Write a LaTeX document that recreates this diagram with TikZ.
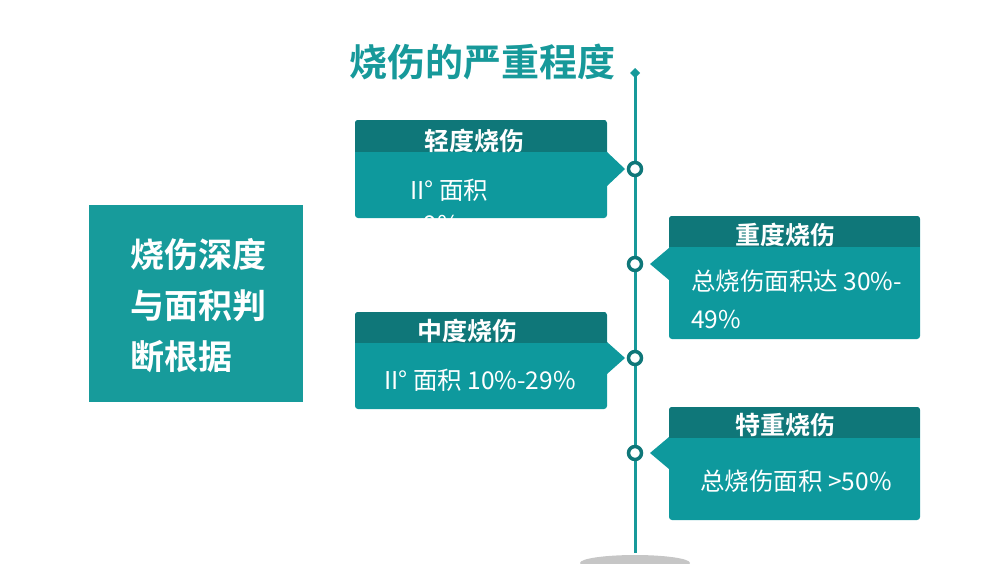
\documentclass[tikz,border=0pt]{standalone}
\usepackage{fontspec}
\setmainfont{Noto Sans CJK SC}
\newfontfamily\cjkb{Noto Sans CJK SC Bold}
\definecolor{hd}{HTML}{0F7779}
\definecolor{bd}{HTML}{0E999D}
\definecolor{tt}{HTML}{17999A}
\definecolor{lb}{HTML}{179B9B}
\begin{document}
\begin{tikzpicture}[x=1pt,y=-1pt,
  body/.style={fill=bd,rounded corners=3pt},
  head/.style={font=\cjkb\fontsize{25}{27}\selectfont,text=white},
  txt/.style={font=\fontsize{24.5}{28}\selectfont,text=white,inner sep=0pt},
  dot/.style={circle,draw=hd,line width=3.5pt,fill=white,minimum size=13pt,inner sep=0pt}]
\useasboundingbox (0,0) rectangle (1000,563);
\fill[gray!45] (635,563) ellipse (55 and 8);
\node[font=\cjkb\fontsize{38}{40}\selectfont,text=tt] (title) at (482,62) {烧伤的严重程度};
\coordinate (top) at (635,73);
\coordinate (bot) at (635,553);
\draw[tt,line width=3pt] (top) -- (bot);
\fill[tt] (635,68) -- (640,73) -- (635,78) -- (630,73) -- cycle;
% left box
\fill[lb] (89,205) rectangle (303,402);
\node[font=\cjkb\fontsize{34}{51}\selectfont,text=white,align=left,anchor=north west,inner sep=0pt] (left) at (130,238) {烧伤深度\\与面积判\\断根据};
% box1
\fill[bd] (607,152) -- (625,169) -- (607,186) -- cycle;
\fill[body] (355,120) rectangle (607,218);
\begin{scope}
\clip[rounded corners=3pt] (355,120) rectangle (607,218);
\fill[hd] (355,120) rectangle (607,152);
\node[txt,anchor=west] (t1) at (410,190) {II° 面积};
\node[txt,anchor=west] (t1b) at (410,225) {<9\%};
\end{scope}
\node[head] (h1) at (474,141) {轻度烧伤};
% box3
\fill[bd] (607,342) -- (625,358) -- (607,374) -- cycle;
\fill[body] (355,312) rectangle (607,409);
\begin{scope}
\clip[rounded corners=3pt] (355,312) rectangle (607,409);
\fill[hd] (355,312) rectangle (607,343);
\end{scope}
\node[head] (h3) at (467,331) {中度烧伤};
\node[txt] (t3) at (480,380) {II° 面积 10\%-29\%};
% box2
\fill[bd] (669,248) -- (650,264) -- (669,280) -- cycle;
\fill[body] (669,216) rectangle (920,339);
\begin{scope}
\clip[rounded corners=3pt] (669,216) rectangle (920,339);
\fill[hd] (669,216) rectangle (920,247);
\end{scope}
\node[head] (h2) at (785,235) {重度烧伤};
\node[txt,anchor=west] (t2) at (691,281) {总烧伤面积达 30\%-};
\node[txt,anchor=west] (t2b) at (691,320) {49\%};
% box4
\fill[bd] (669,437) -- (650,453) -- (669,469) -- cycle;
\fill[body] (669,407) rectangle (920,520);
\begin{scope}
\clip[rounded corners=3pt] (669,407) rectangle (920,520);
\fill[hd] (669,407) rectangle (920,438);
\end{scope}
\node[head] (h4) at (785,425) {特重烧伤};
\node[txt] (t4) at (796,481) {总烧伤面积 >50\%};
% dots
\node[dot] (d1) at (635,169) {};
\node[dot] (d2) at (635,264) {};
\node[dot] (d3) at (635,358) {};
\node[dot] (d4) at (635,453) {};
\end{tikzpicture}
\end{document}
